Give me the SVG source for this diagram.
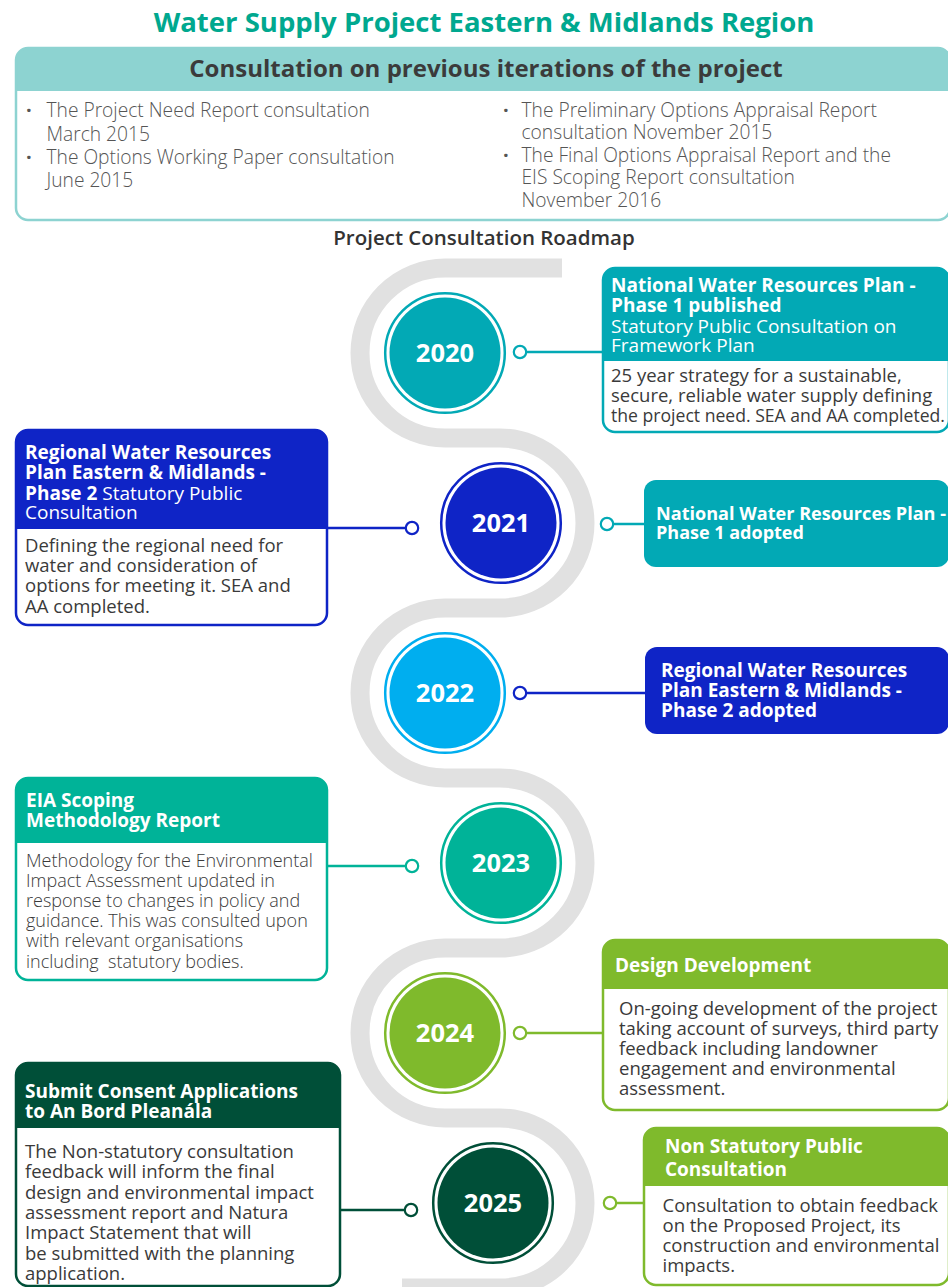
<svg xmlns="http://www.w3.org/2000/svg" width="948" height="1287" viewBox="0 0 948 1287">
<style>
text{font-family:"Open Sans","Noto Sans","Liberation Sans",sans-serif}
.title{font-size:27.5px;font-weight:700;fill:#00a88f}
.htitle{font-size:24px;font-weight:700;fill:#3b3b3b}
.bul{font-size:19.2px;font-weight:300;fill:#555}
.dotc{font-size:20px;font-weight:700;fill:#555}
.sub{font-size:20.5px;font-weight:600;fill:#333}
.hd{font-size:19px;font-weight:700;fill:#fff}
.hds{font-size:18px;font-weight:700;fill:#fff}
.hn{font-size:19px;font-weight:400;fill:#fff}
.bd{font-size:18.5px;font-weight:400;fill:#3a3a3a}
.bdl{font-size:18px;font-weight:300;fill:#3a3a3a}
.yr{font-size:25.5px;font-weight:700;fill:#fff;text-anchor:middle}
.band{fill:none;stroke:#e1e1e1;stroke-width:19}
.frame{fill:none;stroke-width:2.5}
.ring{fill:#fff;stroke-width:2.5}
.conn{stroke-width:2.5;fill:none}
.dot{fill:#fff;stroke-width:2.2}
</style>

<text class="title" x="484" y="32" text-anchor="middle">Water Supply Project Eastern &amp; Midlands Region</text>

<g id="previous">
<path d="M16,91 V60 A12,12 0 0 1 28,48 H938 A12,12 0 0 1 950,60 V91 Z" fill="#8dd3d1"/>
<rect x="16" y="48" width="934" height="172" rx="12" class="frame" stroke="#8dd3d1"/>
<text class="htitle" x="486" y="77" text-anchor="middle">Consultation on previous iterations of the project</text>
<text class="dotc" x="26" y="117">·</text>
<text class="bul" x="46.5" y="117.3">The Project Need Report consultation</text>
<text class="bul" x="46.5" y="141">March 2015</text>
<text class="dotc" x="26" y="164">·</text>
<text class="bul" x="46.5" y="164">The Options Working Paper consultation</text>
<text class="bul" x="46.5" y="186.7">June 2015</text>
<text class="dotc" x="503" y="116.7">·</text>
<text class="bul" x="521.5" y="116.7">The Preliminary Options Appraisal Report</text>
<text class="bul" x="521.5" y="138.5">consultation November 2015</text>
<text class="dotc" x="503" y="161.7">·</text>
<text class="bul" x="521.5" y="161.7">The Final Options Appraisal Report and the</text>
<text class="bul" x="521.5" y="184">EIS Scoping Report consultation</text>
<text class="bul" x="521.5" y="206.7">November 2016</text>
</g>

<text class="sub" x="484" y="245" text-anchor="middle">Project Consultation Roadmap</text>

<g id="roadmap-band">
<path class="band" d="M562,268 H445 A85,85 0 0 0 445,438 H500 A85,85 0 0 1 500,608 H445 A85,85 0 0 0 445,778 H500 A85,85 0 0 1 500,948 H445 A85,85 0 0 0 445,1118 H500 A85,85 0 0 1 500,1288 H402"/>
</g>

<g id="connectors">
<line class="conn" x1="526.5" y1="352" x2="603" y2="352" stroke="#02a9b5"/>
<circle class="dot" cx="520" cy="352" r="6.2" stroke="#02a9b5"/>
<line class="conn" x1="327" y1="528" x2="405.5" y2="528" stroke="#0f24c6"/>
<circle class="dot" cx="412" cy="528" r="6.2" stroke="#0f24c6"/>
<line class="conn" x1="613.5" y1="524" x2="644" y2="524" stroke="#02a9b5"/>
<circle class="dot" cx="607" cy="524" r="6.2" stroke="#02a9b5"/>
<line class="conn" x1="526.5" y1="693" x2="645" y2="693" stroke="#0f24c6"/>
<circle class="dot" cx="520" cy="693" r="6.2" stroke="#0f24c6"/>
<line class="conn" x1="327" y1="866" x2="405.5" y2="866" stroke="#00b398"/>
<circle class="dot" cx="412" cy="866" r="6.2" stroke="#00b398"/>
<line class="conn" x1="526.5" y1="1033" x2="603" y2="1033" stroke="#7fba2c"/>
<circle class="dot" cx="520" cy="1033" r="6.2" stroke="#7fba2c"/>
<line class="conn" x1="340" y1="1210" x2="404.5" y2="1210" stroke="#004f38"/>
<circle class="dot" cx="411" cy="1210" r="6.2" stroke="#004f38"/>
<line class="conn" x1="616.5" y1="1203" x2="644" y2="1203" stroke="#7fba2c"/>
<circle class="dot" cx="610" cy="1203" r="6.2" stroke="#7fba2c"/>
</g>

<g id="y2020">
<circle class="ring" cx="445" cy="353" r="59.8" stroke="#02a9b5"/>
<circle cx="445" cy="353" r="55.5" fill="#02a9b5"/>
<text class="yr" x="445" y="362">2020</text>
</g>
<g id="y2021">
<circle class="ring" cx="501" cy="523" r="59.8" stroke="#0f24c6"/>
<circle cx="501" cy="523" r="55.5" fill="#0f24c6"/>
<text class="yr" x="501" y="532">2021</text>
</g>
<g id="y2022">
<circle class="ring" cx="445" cy="693" r="59.8" stroke="#00aeef"/>
<circle cx="445" cy="693" r="55.5" fill="#00aeef"/>
<text class="yr" x="445" y="702">2022</text>
</g>
<g id="y2023">
<circle class="ring" cx="501" cy="863" r="59.8" stroke="#00b398"/>
<circle cx="501" cy="863" r="55.5" fill="#00b398"/>
<text class="yr" x="501" y="872">2023</text>
</g>
<g id="y2024">
<circle class="ring" cx="445" cy="1033" r="59.8" stroke="#7fba2c"/>
<circle cx="445" cy="1033" r="55.5" fill="#7fba2c"/>
<text class="yr" x="445" y="1042">2024</text>
</g>
<g id="y2025">
<circle class="ring" cx="493" cy="1203" r="59.8" stroke="#004f38"/>
<circle cx="493" cy="1203" r="55.5" fill="#004f38"/>
<text class="yr" x="493" y="1212">2025</text>
</g>

<g id="box2020">
<path d="M603,361 V280 A12,12 0 0 1 615,268 H937 A12,12 0 0 1 949,280 V361 Z" fill="#02a9b5"/>
<rect x="603" y="268" width="346" height="164" rx="12" class="frame" stroke="#02a9b5"/>
<text class="hd" x="611" y="291.5">National Water Resources Plan -</text>
<text class="hd" x="611" y="311.5">Phase 1 published</text>
<text class="hn" x="611" y="333">Statutory Public Consultation on</text>
<text class="hn" x="611" y="352">Framework Plan</text>
<text class="bd" x="611" y="381.5">25 year strategy for a sustainable,</text>
<text class="bd" x="611" y="401.5">secure, reliable water supply defining</text>
<text class="bd" x="611" y="421.5" textLength="334" lengthAdjust="spacingAndGlyphs">the project need. SEA and AA completed.</text>
</g>

<g id="box2021-regional">
<path d="M16,529 V442 A12,12 0 0 1 28,430 H315 A12,12 0 0 1 327,442 V529 Z" fill="#0f24c6"/>
<rect x="16" y="430" width="311" height="195" rx="12" class="frame" stroke="#0f24c6"/>
<text class="hd" x="25" y="459">Regional Water Resources</text>
<text class="hd" x="25" y="479">Plan Eastern &amp; Midlands -</text>
<text class="hd" x="25" y="500">Phase 2<tspan class="hn"> Statutory Public</tspan></text>
<text class="hn" x="25" y="519">Consultation</text>
<text class="bd" x="25" y="551.5">Defining the regional need for</text>
<text class="bd" x="25" y="571.5">water and consideration of</text>
<text class="bd" x="25" y="591.5">options for meeting it. SEA and</text>
<text class="bd" x="25" y="612.5">AA completed.</text>
</g>

<g id="box2021-national">
<rect x="644" y="480" width="305" height="87" rx="12" fill="#02a9b5"/>
<text class="hds" x="656" y="520" textLength="290" lengthAdjust="spacingAndGlyphs">National Water Resources Plan -</text>
<text class="hds" x="656" y="539">Phase 1 adopted</text>
</g>

<g id="box2022">
<rect x="645" y="647" width="304" height="87" rx="12" fill="#0f24c6"/>
<text class="hd" x="661" y="676.5">Regional Water Resources</text>
<text class="hd" x="661" y="697">Plan Eastern &amp; Midlands -</text>
<text class="hd" x="661" y="717">Phase 2 adopted</text>
</g>

<g id="box2023">
<path d="M16,843 V790 A12,12 0 0 1 28,778 H315 A12,12 0 0 1 327,790 V843 Z" fill="#00b398"/>
<rect x="16" y="778" width="311" height="202" rx="12" class="frame" stroke="#00b398"/>
<text class="hd" x="26" y="806.5">EIA Scoping</text>
<text class="hd" x="26" y="826.5">Methodology Report</text>
<text class="bdl" x="26" y="866.5">Methodology for the Environmental</text>
<text class="bdl" x="26" y="886.7">Impact Assessment updated in</text>
<text class="bdl" x="26" y="906.7">response to changes in policy and</text>
<text class="bdl" x="26" y="927">guidance. This was consulted upon</text>
<text class="bdl" x="26" y="947">with relevant organisations</text>
<text class="bdl" x="26" y="968" xml:space="preserve">including  statutory bodies.</text>
</g>

<g id="box2024">
<path d="M603,989 V952 A12,12 0 0 1 615,940 H937 A12,12 0 0 1 949,952 V989 Z" fill="#7fba2c"/>
<rect x="603" y="940" width="346" height="170" rx="12" class="frame" stroke="#7fba2c"/>
<text class="hd" x="615" y="971.5">Design Development</text>
<text class="bd" x="619" y="1015">On-going development of the project</text>
<text class="bd" x="619" y="1035">taking account of surveys, third party</text>
<text class="bd" x="619" y="1055">feedback including landowner</text>
<text class="bd" x="619" y="1075">engagement and environmental</text>
<text class="bd" x="619" y="1095">assessment.</text>
</g>

<g id="box2025-submit">
<path d="M16,1128 V1075 A12,12 0 0 1 28,1063 H328 A12,12 0 0 1 340,1075 V1128 Z" fill="#004f38"/>
<rect x="16" y="1063" width="324" height="223" rx="12" class="frame" stroke="#004f38"/>
<text class="hd" x="25" y="1097.5">Submit Consent Applications</text>
<text class="hd" x="25" y="1118">to An Bord Pleanála</text>
<text class="bd" x="25" y="1158">The Non-statutory consultation</text>
<text class="bd" x="25" y="1178">feedback will inform the final</text>
<text class="bd" x="25" y="1199">design and environmental impact</text>
<text class="bd" x="25" y="1219">assessment report and Natura</text>
<text class="bd" x="25" y="1239">Impact Statement that will</text>
<text class="bd" x="25" y="1260">be submitted with the planning</text>
<text class="bd" x="25" y="1280">application.</text>
</g>

<g id="box2025-public">
<path d="M644,1186 V1140 A12,12 0 0 1 656,1128 H937 A12,12 0 0 1 949,1140 V1186 Z" fill="#7fba2c"/>
<rect x="644" y="1128" width="305" height="157" rx="12" class="frame" stroke="#7fba2c"/>
<text class="hd" x="665" y="1153">Non Statutory Public</text>
<text class="hd" x="665" y="1176">Consultation</text>
<text class="bd" x="662.5" y="1212">Consultation to obtain feedback</text>
<text class="bd" x="662.5" y="1232">on the Proposed Project, its</text>
<text class="bd" x="662.5" y="1252">construction and environmental</text>
<text class="bd" x="662.5" y="1272">impacts.</text>
</g>
</svg>
